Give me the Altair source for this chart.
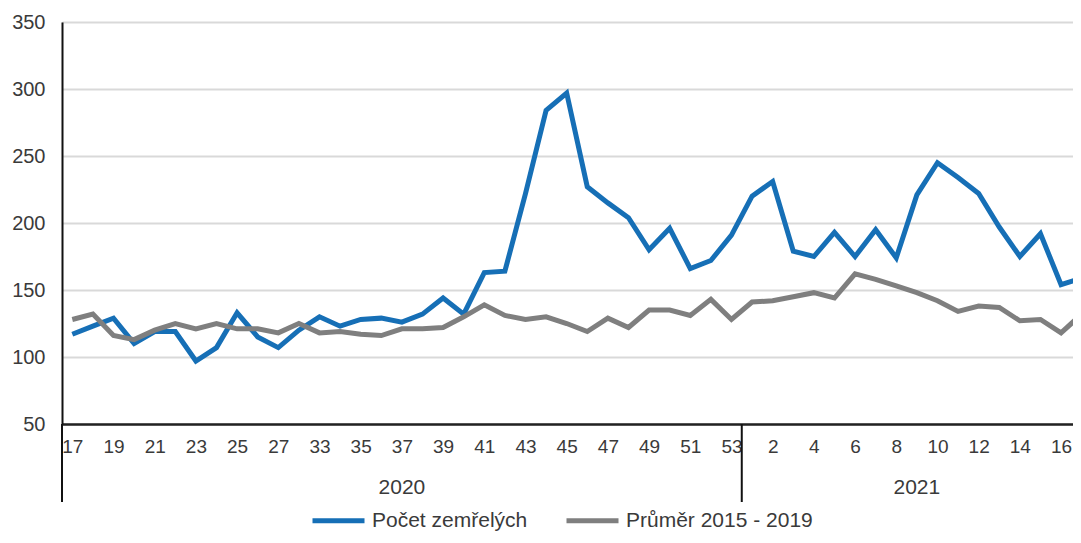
import altair as alt
import pandas as pd

# ---- data ----
weeks = ["17", "18", "19", "20", "21", "22", "23", "24", "25", "26", "27", "32",
         "33", "34", "35", "36", "37", "38", "39", "40", "41", "42", "43", "44",
         "45", "46", "47", "48", "49", "50", "51", "52", "53",
         "1", "2", "3", "4", "5", "6", "7", "8", "9", "10", "11", "12", "13",
         "14", "15", "16", "17"]
week_years = ["2020"] * 33 + ["2021"] * 17

deaths = [117, 123, 129, 110, 119, 119, 97, 107, 133, 115, 107, 120,
          130, 123, 128, 129, 126, 132, 144, 132, 163, 164, 222, 284,
          297, 227, 215, 204, 180, 196, 166, 172, 191,
          220, 231, 179, 175, 193, 175, 195, 174, 221, 245, 234, 222, 197,
          175, 192, 154, 159]
average = [128, 132, 116, 113, 120, 125, 121, 125, 121, 121, 118, 125,
           118, 119, 117, 116, 121, 121, 122, 130, 139, 131, 128, 130,
           125, 119, 129, 122, 135, 135, 131, 143, 128,
           141, 142, 145, 148, 144, 162, 158, 153, 148, 142, 134, 138, 137,
           127, 128, 118, 132]

series_names = ["Počet zemřelých", "Průměr 2015 - 2019"]
series_colors = ["#166fb6", "#7f7f7f"]
y_ticks = [50, 100, 150, 200, 250, 300, 350]
year_labels = ["2020", "2021"]

# ---- tables built from the lists ----
n = len(weeks)
rows = []
for i in range(n):
    rows.append({"i": i, "series": series_names[0], "value": deaths[i]})
for i in range(n):
    rows.append({"i": i, "series": series_names[1], "value": average[i]})
df = pd.DataFrame(rows)

yr_rows = []
for y in year_labels:
    ids = [i for i in range(n) if week_years[i] == y]
    first, last = ids[0], ids[-1]
    yr_rows.append({"year": y, "c": (first + last) / 2.0, "b": first - 0.5})
yr_df = pd.DataFrame(yr_rows)
# the last year's group extends past the cropped edge of the original
yr_df.loc[yr_df.index[-1], "c"] = yr_df["b"].iloc[-1] + 8.5

label_expr = "[" + ",".join("'%s'" % w for w in weeks) + "][datum.value]"

FONT = "Liberation Sans"
TXT = "#3a3a3a"

xscale = alt.Scale(domain=[-0.5, 48.58], nice=False, zero=False)

lines = alt.Chart(df).mark_line(strokeWidth=5, clip=True, strokeJoin="miter").encode(
    x=alt.X("i:Q", scale=xscale,
            axis=alt.Axis(values=list(range(0, n, 2)), labelExpr=label_expr, title=None,
                          grid=False, ticks=False, labelPadding=13, labelFontSize=19,
                          labelFont=FONT, labelColor=TXT, domainColor="#222222",
                          domainWidth=2.5, labelFlush=False, labelOverlap=False)),
    y=alt.Y("value:Q", scale=alt.Scale(domain=[50, 350], nice=False, zero=False),
            axis=alt.Axis(values=y_ticks, title=None, grid=True, gridColor="#d9d9d9",
                          gridWidth=2, ticks=False, labelPadding=17, labelFontSize=20,
                          labelFont=FONT, labelColor=TXT, domainColor="#111111",
                          domainWidth=2)),
    color=alt.Color("series:N", sort=series_names,
                    scale=alt.Scale(domain=series_names, range=series_colors),
                    legend=alt.Legend(title=None, orient="none", legendX=248, legendY=470,
                                      direction="horizontal", symbolType="stroke",
                                      symbolStrokeWidth=5, symbolSize=2704,
                                      labelFontSize=21, labelFont=FONT, labelColor=TXT,
                                      labelOffset=5, columnPadding=28, padding=0,
                                      labelLimit=400)),
    order=alt.Order("i:Q"),
)

seps = alt.Chart(yr_df).mark_rule(color="#111111", strokeWidth=2).encode(
    x=alt.X("b:Q", scale=xscale),
    y=alt.value(402),
    y2=alt.value(480),
)

year_text = alt.Chart(yr_df).mark_text(fontSize=21, font=FONT, color=TXT,
                                       baseline="middle", align="center").encode(
    x=alt.X("c:Q", scale=xscale),
    y=alt.value(466),
    text="year:N",
)

chart = alt.layer(lines, seps, year_text).properties(
    width=1011, height=402,
    autosize=alt.AutoSizeParams(type="none"),
    padding={"left": 54, "top": 14, "right": 0, "bottom": 111},
).configure_view(stroke=None).configure(background="white")

chart.save("out.html", embed_options={"renderer": "svg", "actions": False})
